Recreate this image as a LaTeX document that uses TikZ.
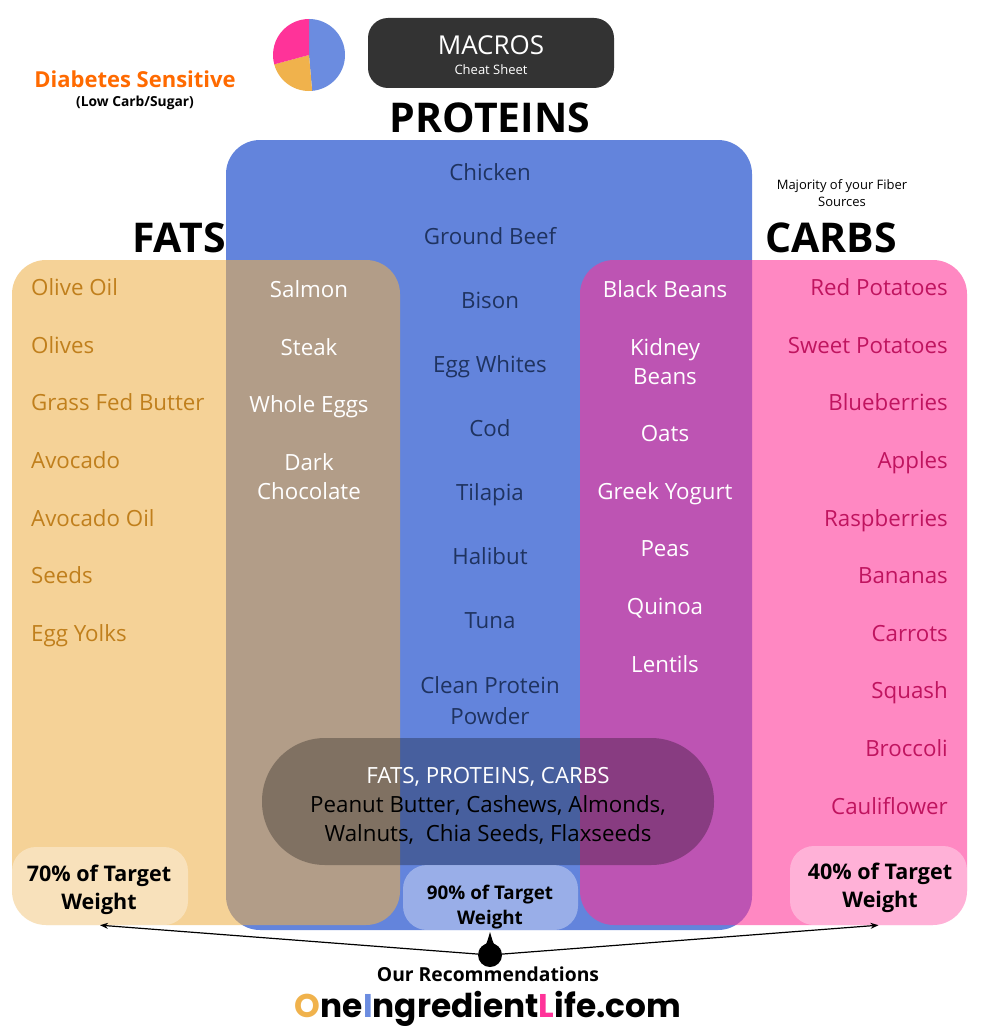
\documentclass[tikz,border=0pt]{standalone}
\usepackage{fontspec}
\setmainfont{Open Sans}
\newfontfamily\pop{Poppins}
\usetikzlibrary{arrows.meta,calc}
\definecolor{protblue}{HTML}{6384DC}
\definecolor{fatorange}{RGB}{238,176,73}
\definecolor{carbpink}{RGB}{255,50,150}
\definecolor{navytext}{HTML}{1F3360}
\definecolor{fattext}{HTML}{C07F1C}
\definecolor{carbtext}{HTML}{C0145F}
\definecolor{diabetes}{HTML}{FF6A00}
\definecolor{darkbox}{HTML}{333333}
\definecolor{pieblue}{HTML}{6B8CE0}
\definecolor{pieorange}{HTML}{F0B24C}
\definecolor{piepink}{HTML}{FF3399}
\newcommand\fsz[2]{\fontsize{#1}{#2}\selectfont}
\tikzset{
  bigbox/.style={rounded corners=34pt, inner sep=0pt},
  pctbox/.style={fill=white, fill opacity=0.35, rounded corners=24pt, inner sep=0pt},
  item/.style={inner sep=0pt, text height=1.6ex, text depth=0.35ex, yshift=-5pt, font=\fsz{22.3}{29}},
  fatitem/.style={item, anchor=west, text=fattext},
  carbitem/.style={item, anchor=east, text=carbtext},
  protitem/.style={item, text=navytext, align=center},
  whiteitem/.style={item, text=white, align=center},
  heading/.style={inner sep=0pt, font=\fsz{41}{45}\bfseries, text=black},
  pcttext/.style={inner sep=0pt, align=center, font=\fsz{21.5}{28}\bfseries, text=black},
  arr/.style={-{Stealth[length=8pt,width=6pt]}, line width=1.2pt, black}
}
\begin{document}
\begin{tikzpicture}[x=1pt,y=-1pt]
\useasboundingbox[fill=white] (0,0) rectangle (984,1030);

% pie chart
\coordinate (pie) at (309,55);
\fill[pieblue] (pie) -- ++(90:-36) arc[start angle=-90, end angle=85, radius=36] -- cycle;
\fill[pieorange] (pie) -- ++(85:36) arc[start angle=85, end angle=165, radius=36] -- cycle;
\fill[piepink] (pie) -- ++(165:36) arc[start angle=165, end angle=270, radius=36] -- cycle;

% title box
\node[fill=darkbox, rounded corners=20pt, minimum width=246pt, minimum height=70pt, inner sep=0pt] (macros) at (491,53) {};
\node[inner sep=0pt, text=white, font=\fsz{26}{30}] (macrostxt) at (491,45) {MACROS};
\node[inner sep=0pt, text=white, font=\fsz{13}{16}] (cheat) at (491,70) {Cheat Sheet};

\node[inner sep=0pt, text=diabetes, font=\fsz{22}{26}\bfseries] (diab) at (135,79) {Diabetes Sensitive};
\node[inner sep=0pt, text=black, font=\fsz{13.8}{16}\bfseries] (lowcarb) at (135,102.5) {(Low Carb/Sugar)};

% headings
\node[heading] (proth) at (490,118) {PROTEINS};
\node[heading] (fath) at (179,238) {FATS};
\node[heading] (carbh) at (831,238) {CARBS};
\node[inner sep=0pt, align=center, font=\fsz{13}{17}] (fiber) at (842,193) {Majority of your Fiber\\Sources};

% boxes
\node[bigbox, fill=protblue, minimum width=526pt, minimum height=790pt] (prot) at (489,535) {};
\node[bigbox, fill=fatorange, fill opacity=0.57, minimum width=388pt, minimum height=665pt] (fat) at (206,592.5) {};
\node[bigbox, fill=carbpink, fill opacity=0.58, minimum width=387pt, minimum height=665pt] (carb) at (773.5,592.5) {};
\node[fill=black, fill opacity=0.28, rounded corners=63pt, minimum width=452pt, minimum height=127pt, inner sep=0pt] (pill) at (488,801.5) {};

\node[pctbox, minimum width=176pt, minimum height=78pt] (fatpct) at (100,886) {};
\node[pctbox, minimum width=175pt, minimum height=65pt] (protpct) at (490.5,897.5) {};
\node[pctbox, minimum width=177pt, minimum height=79pt] (carbpct) at (878.5,885.5) {};

% fats list
\node[fatitem] (f1) at (31,287) {Olive Oil};
\node[fatitem] (f2) at (31,345) {Olives};
\node[fatitem] (f3) at (31,402) {Grass Fed Butter};
\node[fatitem] (f4) at (31,460) {Avocado};
\node[fatitem] (f5) at (31,518) {Avocado Oil};
\node[fatitem] (f6) at (31,575) {Seeds};
\node[fatitem] (f7) at (31,633) {Egg Yolks};

% fats & protein
\node[whiteitem] (fp1) at (309,289) {Salmon};
\node[whiteitem] (fp2) at (309,347) {Steak};
\node[whiteitem] (fp3) at (309,404) {Whole Eggs};
\node[whiteitem] (fp4) at (309,462) {Dark};
\node[whiteitem] (fp5) at (309,491) {Chocolate};

% proteins
\node[protitem] (p1) at (490,172) {Chicken};
\node[protitem] (p2) at (490,236) {Ground Beef};
\node[protitem] (p3) at (490,300) {Bison};
\node[protitem] (p4) at (490,364) {Egg Whites};
\node[protitem] (p5) at (490,428) {Cod};
\node[protitem] (p6) at (490,492) {Tilapia};
\node[protitem] (p7) at (490,556) {Halibut};
\node[protitem] (p8) at (490,620) {Tuna};
\node[protitem] (p9) at (490,685) {Clean Protein};
\node[protitem] (p10) at (490,716) {Powder};

% carbs & protein
\node[whiteitem] (cp1) at (665,289) {Black Beans};
\node[whiteitem] (cp2) at (665,347) {Kidney};
\node[whiteitem] (cp3) at (665,376) {Beans};
\node[whiteitem] (cp4) at (665,433) {Oats};
\node[whiteitem] (cp5) at (665,491) {Greek Yogurt};
\node[whiteitem] (cp6) at (665,548) {Peas};
\node[whiteitem] (cp7) at (665,606) {Quinoa};
\node[whiteitem] (cp8) at (665,664) {Lentils};

% carbs
\node[carbitem] (c1) at (948,287) {Red Potatoes};
\node[carbitem] (c2) at (948,345) {Sweet Potatoes};
\node[carbitem] (c3) at (948,402) {Blueberries};
\node[carbitem] (c4) at (948,460) {Apples};
\node[carbitem] (c5) at (948,518) {Raspberries};
\node[carbitem] (c6) at (948,575) {Bananas};
\node[carbitem] (c7) at (948,633) {Carrots};
\node[carbitem] (c8) at (948,690) {Squash};
\node[carbitem] (c9) at (948,748) {Broccoli};
\node[carbitem] (c10) at (948,806) {Cauliflower};

% pill text
\node[whiteitem] (all1) at (488,775) {FATS, PROTEINS, CARBS};
\node[item, text=black] (all2) at (488,804) {Peanut Butter, Cashews, Almonds,};
\node[item, text=black] (all3) at (488,833) {Walnuts,\ \ Chia Seeds, Flaxseeds};

% percentages
\node[pcttext] (fatpcttxt) at (99,890) {70\% of Target\\Weight};
\node[pcttext, font=\fsz{18.8}{25}\bfseries] (protpcttxt) at (490,907) {90\% of Target\\Weight};
\node[pcttext] (carbpcttxt) at (880,888) {40\% of Target\\Weight};

% recommendations marker
\node[circle, fill=black, minimum size=24pt, inner sep=0pt] (rec) at (490,955) {};
\fill[black] (rec.150) .. controls (486,946) .. (490,932) .. controls (494,946) .. (rec.30) -- cycle;
\draw[arr] (rec) -- (fatpct.south);
\draw[arr] (rec) -- (carbpct.south);
\node[inner sep=0pt, font=\fsz{19.3}{22}\bfseries] (ourrec) at (488,974) {Our Recommendations};
\node[inner sep=0pt, font=\pop\fsz{32.8}{36}\bfseries] (site) at (488,1009) {\textcolor{pieorange}{O}ne\textcolor{pieblue}{I}ngredient\textcolor{piepink}{L}ife.com};
\end{tikzpicture}
\end{document}
